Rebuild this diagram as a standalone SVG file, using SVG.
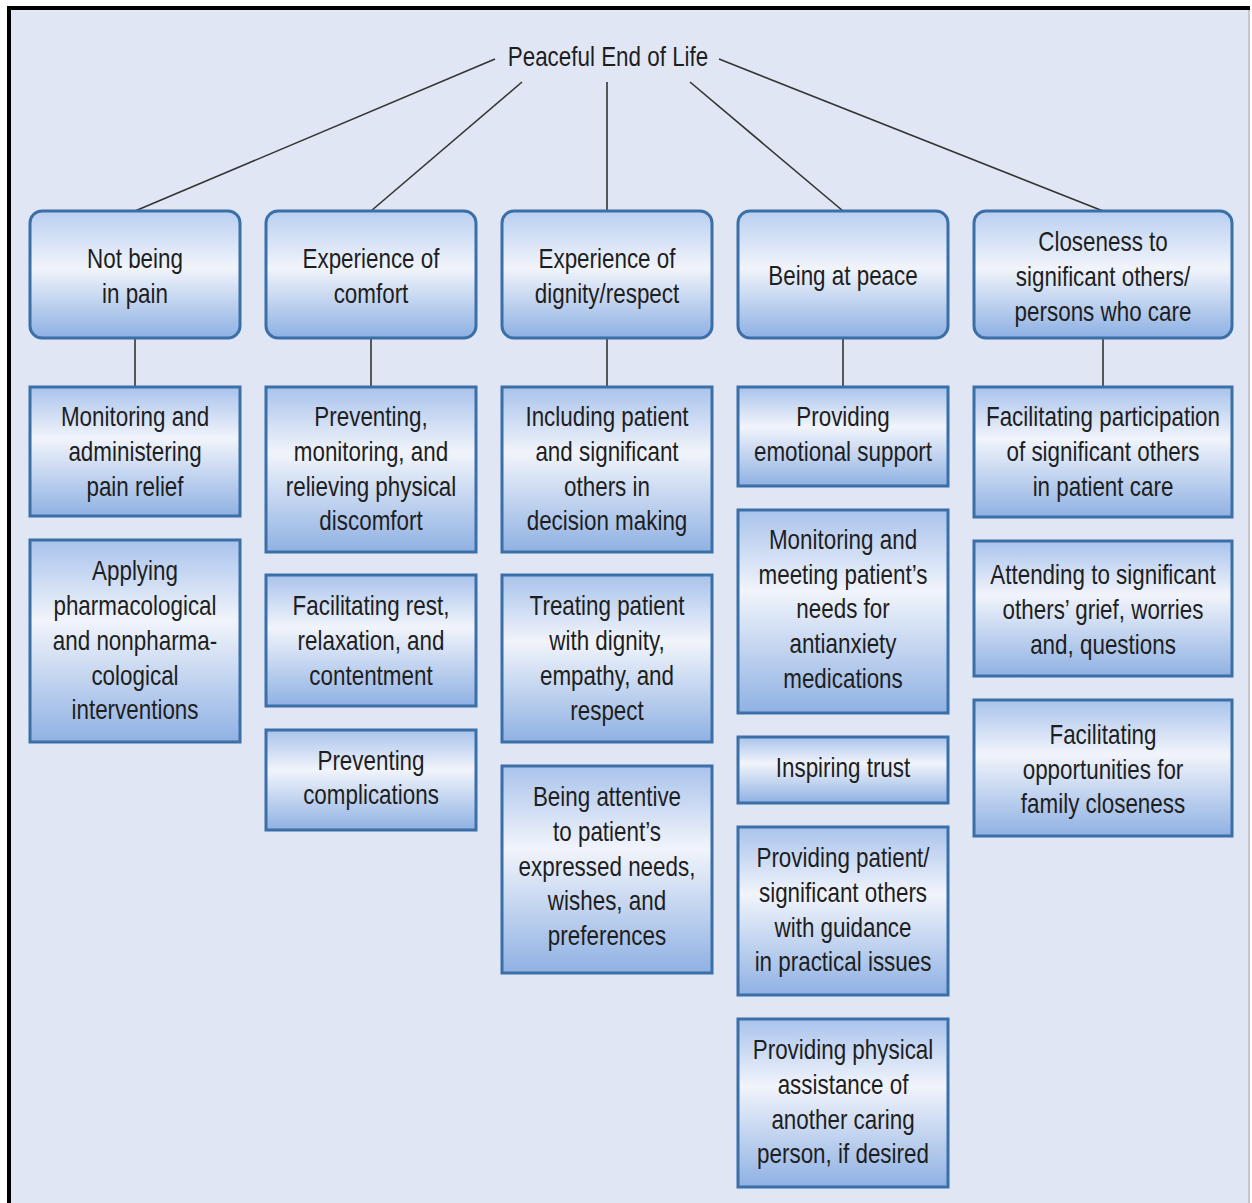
<svg xmlns="http://www.w3.org/2000/svg" width="1252" height="1203" viewBox="0 0 1252 1203">
<defs>
<linearGradient id="gh" x1="0" y1="0" x2="0" y2="1">
<stop offset="0" stop-color="#b9cff1"/>
<stop offset="0.45" stop-color="#f1f4fb"/>
<stop offset="1" stop-color="#8db0e3"/>
</linearGradient>
<linearGradient id="gs" x1="0" y1="0" x2="0" y2="1">
<stop offset="0" stop-color="#a9c3ec"/>
<stop offset="0.4" stop-color="#f1f4fb"/>
<stop offset="1" stop-color="#8fb1e3"/>
</linearGradient>
<style>
.hd{fill:url(#gh);stroke:#3a6fa8;stroke-width:3}
.sb{fill:url(#gs);stroke:#3a6fa8;stroke-width:3}
.t{font-family:"Liberation Sans",Arial,sans-serif;font-size:27px;fill:#1e1e1e;text-anchor:middle}
.c{stroke:#333;stroke-width:1.6;fill:none}
</style>
</defs>
<rect x="0" y="0" width="1252" height="1203" fill="#ffffff"/>
<rect x="9" y="8" width="1241" height="1195" fill="#e1e6f4"/>
<path d="M9,1203 V8 H1250" fill="none" stroke="#000" stroke-width="4"/>
<line x1="1249" y1="10" x2="1249" y2="1203" stroke="#b8bcc6" stroke-width="1.5"/>

<g id="connectors">
<line class="c" x1="495" y1="59" x2="135" y2="211"/>
<line class="c" x1="522" y1="82" x2="371" y2="211"/>
<line class="c" x1="607" y1="82" x2="607" y2="211"/>
<line class="c" x1="690" y1="82" x2="843" y2="211"/>
<line class="c" x1="719" y1="59" x2="1103" y2="211"/>
<line class="c" x1="135" y1="338" x2="135" y2="387"/>
<line class="c" x1="371" y1="338" x2="371" y2="387"/>
<line class="c" x1="607" y1="338" x2="607" y2="387"/>
<line class="c" x1="843" y1="338" x2="843" y2="387"/>
<line class="c" x1="1103" y1="338" x2="1103" y2="387"/>
</g>

<g id="root"><text class="t" transform="translate(608 0) scale(.83 1)"><tspan x="0" y="66">Peaceful End of Life</tspan></text></g>

<g id="h1"><rect class="hd" x="30" y="211" width="210" height="127" rx="12"/><text class="t" transform="translate(135 0) scale(.83 1)"><tspan x="0" y="268">Not being</tspan><tspan x="0" y="303">in pain</tspan></text></g>
<g id="h2"><rect class="hd" x="266" y="211" width="210" height="127" rx="12"/><text class="t" transform="translate(371 0) scale(.83 1)"><tspan x="0" y="268">Experience of</tspan><tspan x="0" y="303">comfort</tspan></text></g>
<g id="h3"><rect class="hd" x="502" y="211" width="210" height="127" rx="12"/><text class="t" transform="translate(607 0) scale(.83 1)"><tspan x="0" y="268">Experience of</tspan><tspan x="0" y="303">dignity/respect</tspan></text></g>
<g id="h4"><rect class="hd" x="738" y="211" width="210" height="127" rx="12"/><text class="t" transform="translate(843 0) scale(.83 1)"><tspan x="0" y="285">Being at peace</tspan></text></g>
<g id="h5"><rect class="hd" x="974" y="211" width="258" height="127" rx="12"/><text class="t" transform="translate(1103 0) scale(.83 1)"><tspan x="0" y="251">Closeness to</tspan><tspan x="0" y="286">significant others/</tspan><tspan x="0" y="321">persons who care</tspan></text></g>

<g id="s1a"><rect class="sb" x="30" y="387" width="210" height="129"/><text class="t" transform="translate(135 0) scale(.83 1)"><tspan x="0" y="426">Monitoring and</tspan><tspan x="0" y="461">administering</tspan><tspan x="0" y="496">pain relief</tspan></text></g>
<g id="s1b"><rect class="sb" x="30" y="540" width="210" height="202"/><text class="t" transform="translate(135 0) scale(.83 1)"><tspan x="0" y="580">Applying</tspan><tspan x="0" y="615">pharmacological</tspan><tspan x="0" y="650">and nonpharma-</tspan><tspan x="0" y="685">cological</tspan><tspan x="0" y="719">interventions</tspan></text></g>

<g id="s2a"><rect class="sb" x="266" y="387" width="210" height="165"/><text class="t" transform="translate(371 0) scale(.83 1)"><tspan x="0" y="426">Preventing,</tspan><tspan x="0" y="461">monitoring, and</tspan><tspan x="0" y="496">relieving physical</tspan><tspan x="0" y="530">discomfort</tspan></text></g>
<g id="s2b"><rect class="sb" x="266" y="575" width="210" height="131"/><text class="t" transform="translate(371 0) scale(.83 1)"><tspan x="0" y="615">Facilitating rest,</tspan><tspan x="0" y="650">relaxation, and</tspan><tspan x="0" y="685">contentment</tspan></text></g>
<g id="s2c"><rect class="sb" x="266" y="730" width="210" height="100"/><text class="t" transform="translate(371 0) scale(.83 1)"><tspan x="0" y="770">Preventing</tspan><tspan x="0" y="804">complications</tspan></text></g>

<g id="s3a"><rect class="sb" x="502" y="387" width="210" height="165"/><text class="t" transform="translate(607 0) scale(.83 1)"><tspan x="0" y="426">Including patient</tspan><tspan x="0" y="461">and significant</tspan><tspan x="0" y="496">others in</tspan><tspan x="0" y="530">decision making</tspan></text></g>
<g id="s3b"><rect class="sb" x="502" y="575" width="210" height="167"/><text class="t" transform="translate(607 0) scale(.83 1)"><tspan x="0" y="615">Treating patient</tspan><tspan x="0" y="650">with dignity,</tspan><tspan x="0" y="685">empathy, and</tspan><tspan x="0" y="720">respect</tspan></text></g>
<g id="s3c"><rect class="sb" x="502" y="766" width="210" height="207"/><text class="t" transform="translate(607 0) scale(.83 1)"><tspan x="0" y="806">Being attentive</tspan><tspan x="0" y="841">to patient’s</tspan><tspan x="0" y="876">expressed needs,</tspan><tspan x="0" y="910">wishes, and</tspan><tspan x="0" y="945">preferences</tspan></text></g>

<g id="s4a"><rect class="sb" x="738" y="387" width="210" height="99"/><text class="t" transform="translate(843 0) scale(.83 1)"><tspan x="0" y="426">Providing</tspan><tspan x="0" y="461">emotional support</tspan></text></g>
<g id="s4b"><rect class="sb" x="738" y="510" width="210" height="203"/><text class="t" transform="translate(843 0) scale(.83 1)"><tspan x="0" y="549">Monitoring and</tspan><tspan x="0" y="584">meeting patient’s</tspan><tspan x="0" y="618">needs for</tspan><tspan x="0" y="653">antianxiety</tspan><tspan x="0" y="688">medications</tspan></text></g>
<g id="s4c"><rect class="sb" x="738" y="737" width="210" height="66"/><text class="t" transform="translate(843 0) scale(.83 1)"><tspan x="0" y="777">Inspiring trust</tspan></text></g>
<g id="s4d"><rect class="sb" x="738" y="827" width="210" height="168"/><text class="t" transform="translate(843 0) scale(.83 1)"><tspan x="0" y="867">Providing patient/</tspan><tspan x="0" y="902">significant others</tspan><tspan x="0" y="937">with guidance</tspan><tspan x="0" y="971">in practical issues</tspan></text></g>
<g id="s4e"><rect class="sb" x="738" y="1019" width="210" height="168"/><text class="t" transform="translate(843 0) scale(.83 1)"><tspan x="0" y="1059">Providing physical</tspan><tspan x="0" y="1094">assistance of</tspan><tspan x="0" y="1129">another caring</tspan><tspan x="0" y="1163">person, if desired</tspan></text></g>

<g id="s5a"><rect class="sb" x="974" y="387" width="258" height="130"/><text class="t" transform="translate(1103 0) scale(.83 1)"><tspan x="0" y="426">Facilitating participation</tspan><tspan x="0" y="461">of significant others</tspan><tspan x="0" y="496">in patient care</tspan></text></g>
<g id="s5b"><rect class="sb" x="974" y="541" width="258" height="135"/><text class="t" transform="translate(1103 0) scale(.83 1)"><tspan x="0" y="584">Attending to significant</tspan><tspan x="0" y="619">others’ grief, worries</tspan><tspan x="0" y="654">and, questions</tspan></text></g>
<g id="s5c"><rect class="sb" x="974" y="700" width="258" height="136"/><text class="t" transform="translate(1103 0) scale(.83 1)"><tspan x="0" y="744">Facilitating</tspan><tspan x="0" y="779">opportunities for</tspan><tspan x="0" y="813">family closeness</tspan></text></g>
</svg>
